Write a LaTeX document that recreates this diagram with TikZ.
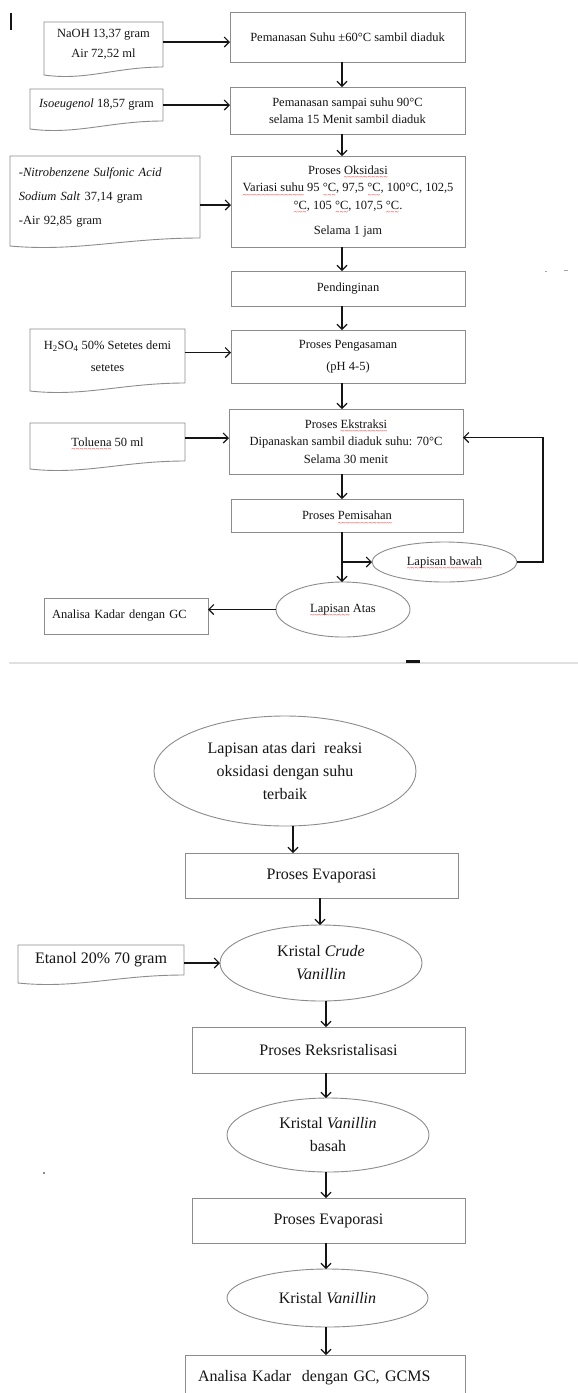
\documentclass[tikz,border=0pt]{standalone}
\usepackage{fontspec}
\setmainfont{Liberation Serif}
\usetikzlibrary{arrows.meta,shapes.geometric,calc}
\definecolor{boxgray}{HTML}{8C8C8C}
\definecolor{ink}{HTML}{151515}
\newsavebox\sqbox
\newcommand\sq[1]{\leavevmode\sbox\sqbox{#1}\rlap{\raisebox{-5.5pt}[0pt][0pt]{\textcolor{red}{\hbox to \wd\sqbox{\fontsize{7}{7}\selectfont\xleaders\hbox{\char"007E}\hfil}}}}\usebox\sqbox}
\newcommand\docout[1]{\draw[docline] (#1.south east) -- (#1.north east) -- (#1.north west) -- ([yshift=-8pt]#1.south west) .. controls ($(#1.south west)!0.35!(#1.south east)+(0,-14pt)$) and ($(#1.south west)!0.6!(#1.south east)$) .. (#1.south east);}
\tikzset{
 base/.style={text=ink, inner sep=0pt, outer sep=0pt},
 proc/.style={base, draw=boxgray, line width=0.9pt, rectangle, align=center},
 oval/.style={base, draw=boxgray, line width=0.9pt, ellipse, align=center},
 docnode/.style={base, rectangle, align=center},
 small/.style={font=\fontsize{12.5}{17.5}\selectfont},
 big/.style={font=\fontsize{16}{23}\selectfont},
 arr/.style={draw=ink, line width=1.1pt, -{Straight Barb[length=5pt,width=10pt]}},
 docline/.style={draw=boxgray, line width=0.9pt},
}
\begin{document}
\begin{tikzpicture}[x=1pt,y=-1pt]
\fill[white] (0,0) rectangle (578,1393);
\useasboundingbox (0,0) rectangle (578,1393);
\coordinate (ax) at (342,0);
\coordinate (fb) at (543,0);
\coordinate (bx1) at (293,0);
\coordinate (bx2) at (320,0);
\coordinate (bx3) at (326,0);
% ---- upper flow ----
\node[proc,small,minimum width=235pt,minimum height=50pt] (p1) at (347.5,37) {Pemanasan Suhu ±60°C sambil diaduk};
\node[proc,small,minimum width=235pt,minimum height=47pt] (p2) at (347.5,110.5) {Pemanasan sampai suhu 90°C\\selama 15 Menit sambil diaduk};
\node[proc,small,minimum width=234pt,minimum height=91pt] (p3) at (348,201.5) {Proses \sq{Oksidasi}\\\sq{Variasi suhu} 95 \sq{°C}, 97,5 \sq{°C}, 100°C, 102,5\\\sq{°C}, 105 \sq{°C}, 107,5 \sq{°C}.\\[8pt]Selama 1 jam};
\node[proc,small,minimum width=234pt,minimum height=35pt] (p4) at (348,288.5) {Pendinginan};
\node[proc,small,minimum width=234pt,minimum height=53pt] (p5) at (348,356.5) {Proses Pengasaman\\[4.5pt](pH 4-5)};
\node[proc,small,minimum width=234pt,minimum height=65pt] (p6) at (346,441.5) {Proses \sq{Ekstraksi}\\Dipanaskan sambil diaduk suhu: 70°C\\Selama 30 menit};
\node[proc,small,minimum width=232pt,minimum height=33pt] (p7) at (347,515.5) {Proses \sq{Pemisahan}};
\node[oval,small,minimum width=145pt,minimum height=40pt] (lb) at (444.5,562) {\sq{Lapisan bawah}};
\node[oval,small,minimum width=134pt,minimum height=55pt] (la) at (343,609.5) {\sq{Lapisan} Atas};
\node[proc,small,align=left,text width=148pt,inner xsep=8pt,minimum height=36pt] (an1) at (126,616) {Analisa Kadar dengan GC};
% inputs
\node[docnode,small,minimum width=119pt,minimum height=45pt] (i1) at (103.5,44.5) {NaOH 13,37 gram\\[2.5pt]Air 72,52 ml};
\node[docnode,small,minimum width=133pt,minimum height=32pt] (i2) at (96.5,105) {\textit{Isoeugenol} 18,57 gram};
\node[docnode,small,align=left,text width=172pt,inner xsep=9pt,minimum height=82pt] (i3) at (105,197) {-\textit{Nitrobenzene Sulfonic Acid}\\[6.5pt]\textit{Sodium Salt} 37,14 gram\\[6.5pt]-Air 92,85 gram};
\node[docnode,small,minimum width=155pt,minimum height=54pt] (i4) at (107.5,356) {H\textsubscript{2}SO\textsubscript{4} 50\% Setetes demi\\[4.5pt]setetes};
\node[docnode,small,minimum width=155pt,minimum height=38pt] (i5) at (107.5,442) {\sq{Toluena} 50 ml};
\docout{i1}
\docout{i2}
\docout{i3}
\docout{i4}
\docout{i5}
% arrows upper
\coordinate (a1) at ([yshift=2.5pt]i1.east);
\coordinate (a3) at ([yshift=-3.5pt]p3.west);
\coordinate (a4) at ([yshift=3.5pt]i4.east);
\coordinate (a5) at ([yshift=4pt]i5.east);
\draw[arr] (a1) -- (a1 -| p1.west);
\draw[arr] (i2.east) -- (i2.east -| p2.west);
\draw[arr] (a3 -| i3.east) -- (a3);
\draw[arr] (a4) -- (a4 -| p5.west);
\draw[arr] (a5) -- (a5 -| p6.west);
\draw[arr] (p1.south -| ax) -- (p2.north -| ax);
\draw[arr] (p2.south -| ax) -- (p3.north -| ax);
\draw[arr] (p3.south -| ax) -- (p4.north -| ax);
\draw[arr] (p4.south -| ax) -- (p5.north -| ax);
\draw[arr] (p5.south -| ax) -- (p6.north -| ax);
\draw[arr] (p6.south -| ax) -- (p7.north -| ax);
\draw[arr] (p7.south -| ax) -- (la.north -| ax);
\draw[arr] (ax |- lb.west) -- (lb.west);
\coordinate (pin) at ([yshift=4pt]p6.east);
\draw[arr] (lb.east) -- (lb.east -| fb) -- (fb |- pin) -- (pin);
\draw[arr] (la.west) -- (la.west -| an1.east);
% stray marks
\draw[ink, line width=1.3pt] (11,13) -- (11,30);
\draw[gray!70, line width=0.8pt] (545,271) -- (547,271);
\draw[gray!70, line width=0.8pt] (564,270.5) -- (568,270.5);
\draw[black!12, line width=2pt] (9,663) -- (578,663);
\fill[ink] (406,659.5) rectangle (420,662.5);
\fill[ink] (44,1173) circle (0.9pt);
% ---- lower flow ----
\node[oval,big,minimum width=262pt,minimum height=110pt] (e1) at (285,771) {Lapisan atas dari\ \ reaksi\\oksidasi dengan suhu\\terbaik};
\node[proc,big,minimum width=273pt,minimum height=45pt] (ev1) at (321.5,875.5) {Proses Evaporasi};
\node[oval,big,minimum width=202pt,minimum height=76pt] (kc) at (321,963) {Kristal \textit{Crude}\\\textit{Vanillin}};
\node[docnode,big,minimum width=166pt,minimum height=30pt] (i6) at (101,960) {Etanol 20\% 70 gram};
\docout{i6}
\node[proc,big,minimum width=273pt,minimum height=46pt] (rk) at (328.5,1050) {Proses Reksristalisasi};
\node[oval,big,minimum width=202pt,minimum height=74pt] (kvb) at (328,1135) {Kristal \textit{Vanillin}\\basah};
\node[proc,big,minimum width=273pt,minimum height=45pt] (ev2) at (328.5,1220.5) {Proses Evaporasi};
\node[oval,big,minimum width=201pt,minimum height=58pt] (kv) at (327.5,1298) {Kristal \textit{Vanillin}};
\node[proc,big,align=left,text width=254pt,inner xsep=13pt,minimum height=45pt] (an2) at (325,1377.5) {Analisa Kadar\ \ dengan GC, GCMS};
\draw[arr] (e1.south -| bx1) -- (ev1.north -| bx1);
\draw[arr] (ev1.south -| bx2) -- (kc.north -| bx2);
\draw[arr] (kc.west -| i6.east) -- (kc.west);
\draw[arr] (kc.south -| bx3) -- (rk.north -| bx3);
\draw[arr] (rk.south -| bx3) -- (kvb.north -| bx3);
\draw[arr] (kvb.south -| bx3) -- (ev2.north -| bx3);
\draw[arr] (ev2.south -| bx3) -- (kv.north -| bx3);
\draw[arr] (kv.south -| bx3) -- (an2.north -| bx3);
\end{tikzpicture}
\end{document}
